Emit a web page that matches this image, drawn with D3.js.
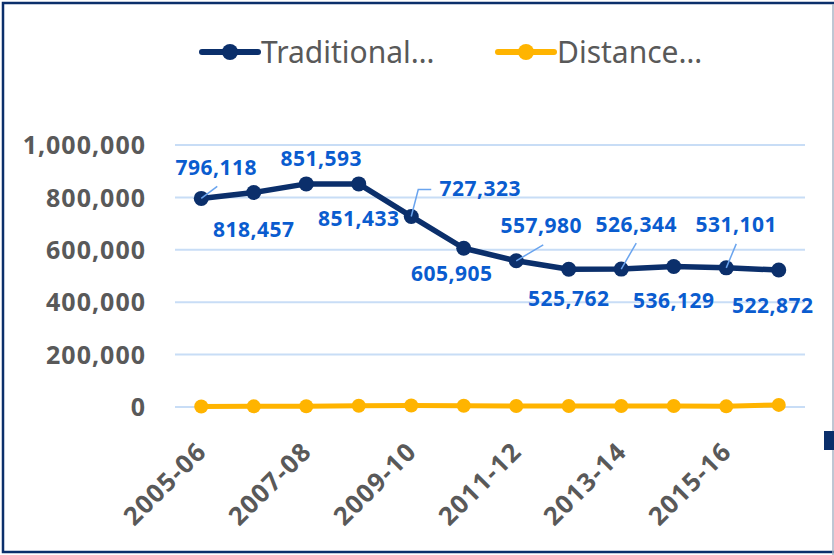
<!DOCTYPE html>
<meta charset="utf-8" />
<style>
  body { margin: 0; background: #fff; }
  text { font-family: "Noto Sans", sans-serif; }
</style>
<svg width="834" height="555"></svg>
<script src="https://d3js.org/d3.v7.min.js"></script>
<script>
  var svg = d3.select("svg");

  // data
  var years = ["2005-06", "2006-07", "2007-08", "2008-09", "2009-10", "2010-11",
    "2011-12", "2012-13", "2013-14", "2014-15", "2015-16", "2016-17"];
  var traditional = [796118, 818457, 851593, 851433, 727323, 605905,
    557980, 525762, 526344, 536129, 531101, 522872];
  var distance = [2000, 2500, 3000, 5000, 6000, 5000, 4000, 4000, 4000, 4000, 2500, 8000];
  var yTicks = [0, 200000, 400000, 600000, 800000, 1000000];
  var xTickLabels = ["2005-06", "2007-08", "2009-10", "2011-12", "2013-14", "2015-16"];
  var seriesNames = ["Traditional\u2026", "Distance\u2026"];

  var navy = "#0b2f6b", gold = "#ffb400", labelBlue = "#0a5ccf", grey = "#595959";

  // label placement next to each point: [dx, dy, leader end dx, leader end dy]
  var labelPos = [
    [15, -23, 16, -12], [0, 44], [15, -18], [0, 42],
    [69, -20, "elbow"], [-12, 33], [25, -28, 27, -16], [0, 37],
    [15, -37, 15, -26], [0, 41], [10, -36, 10, -24], [-6, 43]
  ];

  var x = d3.scalePoint().domain(years).range([175, 805]).padding(0.5);
  var y = d3.scaleLinear().domain([0, 1000000]).range([407, 145]);

  // frame
  svg.append("rect").attr("x", 3).attr("y", 3).attr("width", 860).attr("height", 549)
    .attr("fill", "none").attr("stroke", navy).attr("stroke-width", 2.5);
  svg.append("line").attr("x1", 833).attr("x2", 833).attr("y1", 4).attr("y2", 555)
    .attr("stroke", "#a8b4c4").attr("stroke-width", 1.5);
  svg.append("rect").attr("x", 824).attr("y", 431).attr("width", 12).attr("height", 19)
    .attr("fill", navy);

  // grid
  svg.append("g").selectAll("line").data(yTicks).enter().append("line")
    .attr("x1", 175).attr("x2", 805)
    .attr("y1", d => y(d)).attr("y2", d => y(d))
    .attr("stroke", "#c8ddf6").attr("stroke-width", 2);

  // y axis labels
  var yAxis = svg.append("g").attr("transform", "translate(146,0)")
    .call(d3.axisLeft(y).tickValues(yTicks).tickFormat(d3.format(",")).tickSize(0).tickPadding(0));
  yAxis.select(".domain").remove();
  yAxis.selectAll("text")
    .attr("fill", grey).attr("font-size", 25).attr("font-weight", "bold")
    .attr("letter-spacing", 1).attr("dy", "0.35em")
    .style("font-family", "'Noto Sans', sans-serif");

  // x axis labels
  svg.append("g").selectAll("text").data(xTickLabels).enter().append("text")
    .attr("transform", d => "translate(" + (x(d) + 7) + ",453) rotate(-45)")
    .attr("text-anchor", "end")
    .attr("fill", grey).attr("font-size", 25.5).attr("font-weight", "bold")
    .attr("letter-spacing", 1.3)
    .text(d => d);

  var line = d3.line().x((d, i) => x(years[i])).y(d => y(d));

  function drawSeries(values, color, width, r) {
    svg.append("path").datum(values).attr("d", line)
      .attr("fill", "none").attr("stroke", color).attr("stroke-width", width)
      .attr("stroke-linejoin", "round");
    svg.append("g").selectAll("circle").data(values).enter().append("circle")
      .attr("cx", (d, i) => x(years[i])).attr("cy", d => y(d))
      .attr("r", r).attr("fill", color);
  }

  drawSeries(distance, gold, 5, 7);
  drawSeries(traditional, navy, 5.5, 7.5);

  // leader lines
  var leaders = svg.append("g").attr("stroke", "#6aa4ee").attr("stroke-width", 1.5).attr("fill", "none");
  traditional.forEach(function (v, i) {
    var p = labelPos[i], px = x(years[i]), py = y(v);
    if (p[2] === "elbow") {
      leaders.append("path").attr("d", "M" + px + "," + py + "L" + (px + 7) + "," + (py - 27) + "h13");
    } else if (p.length === 4) {
      leaders.append("line").attr("x1", px).attr("y1", py)
        .attr("x2", px + p[2]).attr("y2", py + p[3]);
    }
  });

  // data labels
  svg.append("g").selectAll("text").data(traditional).enter().append("text")
    .attr("x", (d, i) => x(years[i]) + labelPos[i][0])
    .attr("y", (d, i) => y(d) + labelPos[i][1])
    .attr("text-anchor", "middle")
    .attr("fill", labelBlue).attr("font-size", 21).attr("font-weight", "bold")
    .attr("letter-spacing", 0.5)
    .text(d => d3.format(",")(d));

  // legend
  var legendX = [202, 498];
  var legendColors = [navy, gold];
  var legend = svg.append("g").selectAll("g").data(seriesNames).enter().append("g")
    .attr("transform", (d, i) => "translate(" + legendX[i] + ",52)");
  legend.append("line").attr("x1", 0).attr("x2", 56)
    .attr("stroke", (d, i) => legendColors[i]).attr("stroke-width", 6).attr("stroke-linecap", "round");
  legend.append("circle").attr("cx", 28).attr("r", 8).attr("fill", (d, i) => legendColors[i]);
  legend.append("text").attr("x", 59).attr("y", 10.5)
    .attr("fill", grey).attr("font-size", 30)
    .text(d => d);
</script>
